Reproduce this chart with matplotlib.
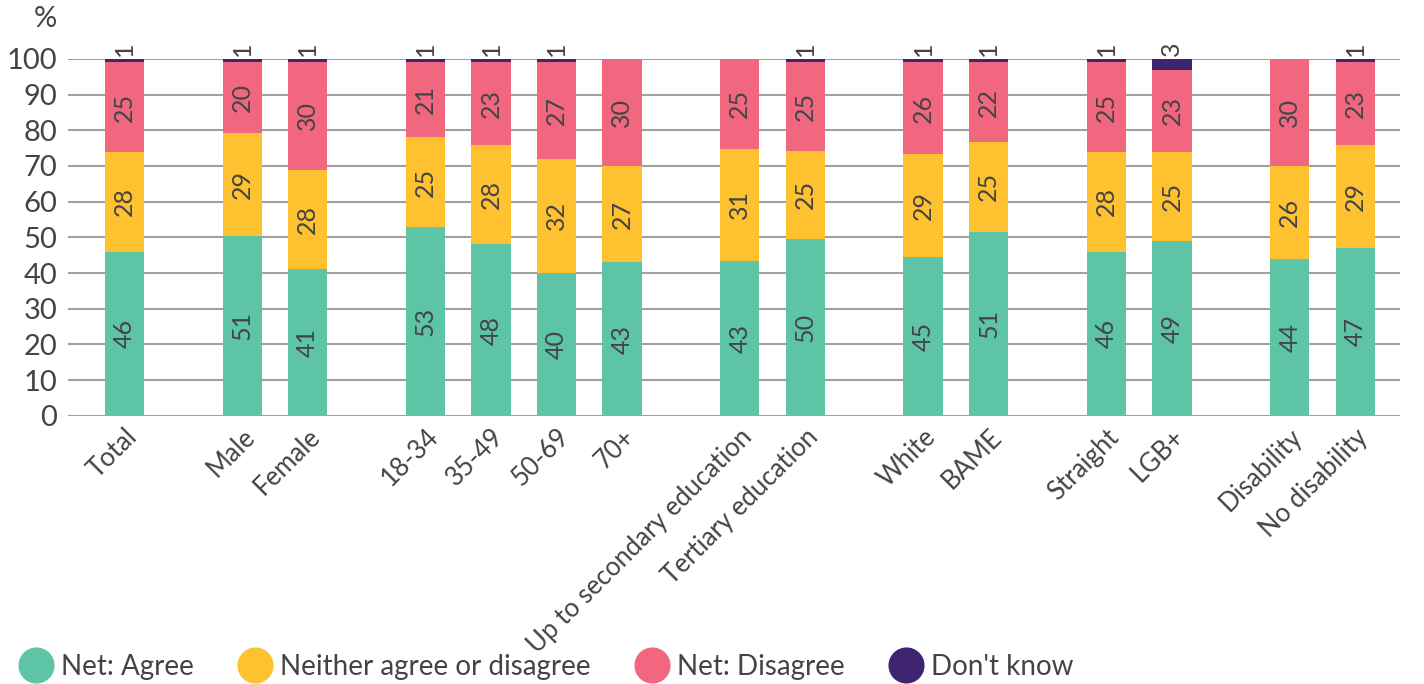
import numpy as np
import matplotlib.pyplot as plt

plt.rcParams['font.family'] = ['Lato', 'DejaVu Sans']

groups = [
    ['Total'],
    ['Male', 'Female'],
    ['18-34', '35-49', '50-69', '70+'],
    ['Up to secondary education', 'Tertiary education'],
    ['White', 'BAME'],
    ['Straight', 'LGB+'],
    ['Disability', 'No disability'],
]
agree = [46, 51, 41, 53, 48, 40, 43, 43, 50, 45, 51, 46, 49, 44, 47]
neither = [28, 29, 28, 25, 28, 32, 27, 31, 25, 29, 25, 28, 25, 26, 29]
disagree = [25, 20, 30, 21, 23, 27, 30, 25, 25, 26, 22, 25, 23, 30, 23]
dont_know = [1, 1, 1, 1, 1, 1, 0, 0, 1, 1, 1, 1, 3, 0, 1]

series_names = ['Net: Agree', 'Neither agree or disagree', 'Net: Disagree', "Don't know"]
colors = ['#5ec4a6', '#fec12f', '#f1677f', '#3f2470']
text_col = '#444444'

# positions: one unit per bar, extra gap between groups
labels = []
xpos = []
x = 0.0
for g in groups:
    for name in g:
        labels.append(name)
        xpos.append(x)
        x += 1
    x += 0.8
xpos = np.array(xpos)

all_series = [agree, neither, disagree, dont_know]
# rounded values don't always add to 100, so scale each bar to fill 100
totals = np.array(all_series, dtype=float).sum(axis=0)

fig = plt.figure(figsize=(14.24, 6.84), dpi=100)
ax = fig.add_axes([0.048, 0.392, 0.935, 0.522])

w = 0.6
bottom = np.zeros(len(labels))
for i, vals in enumerate(all_series):
    vals = np.array(vals, dtype=float)
    h = vals / totals * 100
    ax.bar(xpos, h, w, bottom=bottom, color=colors[i], zorder=3, label=series_names[i])
    for xx, b, hh, v in zip(xpos, bottom, h, vals):
        if v <= 0:
            continue
        if i < 3:
            ax.text(xx, b + hh / 2, '%d' % v, rotation=90, ha='center', va='center',
                    fontsize=18, color=text_col, zorder=4)
        else:
            ax.text(xx, 100.8, '%d' % v, rotation=90, ha='center', va='bottom',
                    fontsize=18, color=text_col, zorder=4, clip_on=False)
    bottom += h

ax.set_ylim(0, 100)
ax.set_xlim(-0.855, 19.48)
ax.set_yticks(range(0, 101, 10))
ax.yaxis.grid(True, color='#a0a0a0', linewidth=1.5, zorder=0)
ax.set_axisbelow(True)
for s in ax.spines.values():
    s.set_visible(False)
ax.tick_params(axis='y', length=0, labelsize=21, labelcolor=text_col, pad=8)
ax.tick_params(axis='x', length=0, labelsize=18.5, labelcolor=text_col, pad=6)
ax.set_xticks(xpos)
ax.set_xticklabels(labels, rotation=45, ha='right', rotation_mode='anchor')
ax.text(-0.017, 1.075, '%', transform=ax.transAxes, ha='center', va='bottom',
        fontsize=21, color=text_col)

handles = [plt.Line2D([], [], marker='o', linestyle='', markersize=25,
                      markerfacecolor=c, markeredgecolor=c) for c in colors]
fig.legend(handles, series_names, loc='lower left', bbox_to_anchor=(-0.004, -0.03),
           ncol=4, frameon=False, fontsize=20, handletextpad=0.3, columnspacing=1.6,
           labelcolor=text_col, handlelength=1.2)

fig.savefig('out.png', dpi=100)
